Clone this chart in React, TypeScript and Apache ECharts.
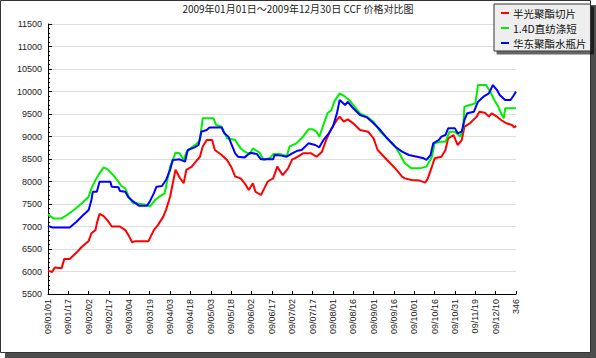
import React, { useEffect, useRef } from "react";
import * as echarts from "echarts";

const TITLE = "2009年01月01日～2009年12月30日 CCF 价格对比图";
const SERIES_NAMES = ["半光聚酯切片", "1.4D直纺涤短", "华东聚酯水瓶片"];
const SERIES_COLORS = ["#ff0000", "#00ee00", "#0000ff"];

const X_TICK_LABELS = [
  "09/01/01", "09/01/17", "09/02/02", "09/02/17", "09/03/04", "09/03/19",
  "09/04/03", "09/04/18", "09/05/03", "09/05/18", "09/06/02", "09/06/17",
  "09/07/02", "09/07/17", "09/08/01", "09/08/16", "09/09/01", "09/09/16",
  "09/10/01", "09/10/16", "09/10/31", "09/11/19", "09/12/10", "346",
];

// [point index, price]
const redData: [number, number][] = [
  [0, 6020], [3, 5990], [5, 6090], [10, 6070], [12, 6280], [16, 6280], [21, 6420],
  [25, 6550], [30, 6680], [32, 6850], [35, 6920], [36, 7070], [38, 7280], [41, 7230],
  [44, 7130], [47, 7000], [53, 7000], [57, 6920], [60, 6770], [62, 6650], [64, 6670],
  [74, 6670], [78, 6920], [81, 7030], [85, 7220], [87, 7370], [90, 7660], [92, 7960],
  [94, 8260], [97, 8090], [100, 7960], [102, 8260], [106, 8330], [110, 8480], [112, 8550],
  [114, 8770], [117, 8920], [121, 8920], [123, 8700], [128, 8590], [132, 8480], [135, 8330],
  [138, 8110], [142, 8070], [145, 7960], [148, 7810], [151, 7960], [153, 7770], [157, 7700],
  [160, 7880], [162, 8000], [166, 8070], [169, 8330], [173, 8140], [177, 8290], [180, 8490],
  [182, 8515], [188, 8626], [194, 8626], [198, 8550], [202, 8663], [205, 8922], [209, 9180],
  [213, 9367], [215, 9441], [218, 9330], [221, 9380], [225, 9293], [230, 9144], [236, 9107],
  [240, 8960], [243, 8700], [250, 8478], [256, 8292], [261, 8107], [263, 8070], [268, 8033],
  [274, 8020], [278, 7974], [280, 8070], [283, 8329], [285, 8515], [290, 8551], [293, 8700],
  [295, 8960], [299, 9033], [302, 8811], [305, 8922], [307, 9218], [311, 9293], [316, 9441],
  [318, 9552], [322, 9530], [325, 9441], [327, 9515], [331, 9441], [334, 9367], [338, 9293],
  [342, 9255], [344, 9200], [345, 9240],
];

const greenData: [number, number][] = [
  [0, 7270], [4, 7180], [10, 7180], [14, 7256], [19, 7367], [25, 7515], [30, 7663],
  [32, 7848], [35, 8033], [38, 8181], [41, 8315], [44, 8270], [48, 8144], [52, 7996],
  [54, 7900], [57, 7848], [60, 7626], [63, 7515], [65, 7515], [73, 7478], [75, 7441],
  [79, 7589], [82, 7663], [86, 7737], [90, 8329], [94, 8640], [97, 8626], [100, 8478],
  [102, 8648], [106, 8759], [110, 8848], [112, 8922], [114, 9404], [122, 9404], [124, 9255],
  [128, 9218], [132, 8960], [138, 8922], [142, 8737], [145, 8663], [149, 8610], [151, 8737],
  [156, 8640], [159, 8478], [164, 8530], [166, 8610], [171, 8610], [176, 8566], [178, 8773],
  [183, 8848], [188, 8996], [192, 9159], [195, 9159], [198, 9107], [200, 8996], [203, 9255],
  [206, 9515], [209, 9589], [211, 9774], [215, 9959], [219, 9885], [222, 9811], [226, 9663],
  [230, 9515], [235, 9441], [240, 9329], [245, 9107], [250, 8960], [256, 8773], [259, 8626],
  [263, 8404], [268, 8292], [274, 8292], [279, 8330], [283, 8551], [285, 8848], [289, 8885],
  [293, 8885], [296, 9107], [300, 9107], [304, 8996], [306, 9181], [307, 9663], [311, 9700],
  [315, 9737], [317, 10144], [323, 10144], [326, 9996], [329, 9811], [332, 9663], [334, 9515],
  [336, 9404], [337, 9626], [345, 9626],
];

const blueData: [number, number][] = [
  [0, 7011], [3, 6980], [16, 6980], [21, 7107], [26, 7256], [30, 7367], [32, 7589],
  [33, 7770], [36, 7770], [38, 7996], [46, 7996], [47, 7885], [52, 7870], [53, 7790],
  [57, 7770], [59, 7663], [63, 7552], [67, 7463], [73, 7463], [75, 7552], [78, 7737],
  [80, 7885], [84, 7900], [87, 8033], [90, 8256], [92, 8478], [97, 8493], [101, 8440],
  [103, 8700], [108, 8759], [111, 8811], [113, 9107], [117, 9144], [119, 9200], [128, 9200],
  [130, 9070], [133, 8996], [135, 8848], [138, 8626], [140, 8551], [145, 8536], [149, 8640],
  [154, 8610], [157, 8493], [166, 8493], [167, 8590], [172, 8575], [176, 8551], [180, 8626],
  [184, 8685], [187, 8700], [192, 8848], [197, 8811], [200, 8759], [203, 8922], [207, 9070],
  [210, 9218], [213, 9515], [215, 9811], [219, 9700], [221, 9770], [225, 9626], [230, 9478],
  [235, 9426], [240, 9293], [245, 9144], [250, 8960], [256, 8773], [261, 8663], [266, 8589],
  [272, 8551], [277, 8515], [279, 8478], [282, 8589], [284, 8848], [288, 8922], [290, 8996],
  [293, 9033], [295, 9181], [300, 9181], [302, 9070], [305, 9107], [307, 9367], [309, 9515],
  [314, 9552], [317, 9774], [321, 9885], [325, 9959], [328, 10144], [331, 10033], [333, 9922],
  [337, 9811], [341, 9811], [343, 9900], [345, 10000],
];

const Y_MIN = 5500;
const Y_MAX = 11500;
const Y_STEP = 500;
const X_STEP = 15;

export default function App() {
  const ref = useRef<HTMLDivElement>(null);

  useEffect(() => {
    document.body.style.margin = "0";
    const chart = echarts.init(ref.current!, undefined, { renderer: "svg" });
    const labelFont = "Liberation Sans, Arial, sans-serif";
    const cjkFont = "Noto Sans CJK SC, sans-serif";
    const datasets = [redData, greenData, blueData];

    chart.setOption({
      animation: false,
      backgroundColor: "transparent",
      graphic: [
        {
          type: "rect",
          z: -20,
          silent: true,
          shape: { x: 5, y: 5, width: 591, height: 353 },
          style: { fill: "#4d4d4d" },
        },
        {
          type: "rect",
          z: -19,
          silent: true,
          shape: { x: 0.5, y: 0.5, width: 590, height: 352 },
          style: { fill: "#ffffff", stroke: "#333333", lineWidth: 1 },
        },
      ],
      title: {
        text: TITLE,
        left: "center",
        top: 3,
        padding: 0,
        textStyle: {
          fontSize: 10,
          fontWeight: "normal",
          color: "#222",
          fontFamily: cjkFont,
        },
      },
      legend: {
        orient: "vertical",
        left: 494,
        top: 4,
        padding: [3, 4, 2, 7],
        itemGap: 3,
        itemWidth: 8,
        itemHeight: 2,
        icon: "rect",
        backgroundColor: "#eeeeee",
        borderColor: "#333333",
        borderWidth: 1,
        borderRadius: 0,
        shadowColor: "rgba(0,0,0,0.6)",
        shadowOffsetX: 3,
        shadowOffsetY: 3,
        shadowBlur: 0,
        data: SERIES_NAMES,
        textStyle: {
          fontSize: 10.5,
          lineHeight: 12,
          color: "#111",
          fontFamily: cjkFont,
          padding: [0, 0, 0, -1],
        },
      },
      grid: { left: 48, right: 80, top: 24, bottom: 64, containLabel: false },
      xAxis: {
        type: "value",
        min: 0,
        max: (X_TICK_LABELS.length - 1) * X_STEP,
        interval: X_STEP,
        axisLine: { show: true, lineStyle: { color: "#000", width: 1 } },
        axisTick: { show: true, inside: true, length: 3, lineStyle: { color: "#000" } },
        splitLine: { show: false },
        axisLabel: {
          rotate: 90,
          margin: 5,
          fontSize: 9,
          color: "#222",
          fontFamily: labelFont,
          formatter: (v: number) => X_TICK_LABELS[Math.round(v / X_STEP)] ?? "",
        },
      },
      yAxis: {
        type: "value",
        min: Y_MIN,
        max: Y_MAX,
        interval: Y_STEP,
        axisLine: { show: true, lineStyle: { color: "#000", width: 1 } },
        axisTick: { show: true, inside: true, length: 4, lineStyle: { color: "#000" } },
        minorTick: { show: true, splitNumber: 5, length: 2, lineStyle: { color: "#000" } },
        splitLine: { show: true, lineStyle: { color: "#dddddd", width: 1 } },
        axisLabel: {
          margin: 6,
          fontSize: 9,
          color: "#222",
          fontFamily: labelFont,
          formatter: (v: number) => String(v),
        },
      },
      series: SERIES_NAMES.map((name, i) => ({
        name,
        type: "line",
        data: datasets[i],
        showSymbol: false,
        symbol: "none",
        smooth: false,
        color: SERIES_COLORS[i],
        lineStyle: { width: 2, color: SERIES_COLORS[i] },
      })),
    });

    return () => chart.dispose();
  }, []);

  return (
    <div
      ref={ref}
      style={{ position: "absolute", left: 0, top: 0, width: 596, height: 358 }}
    />
  );
}
